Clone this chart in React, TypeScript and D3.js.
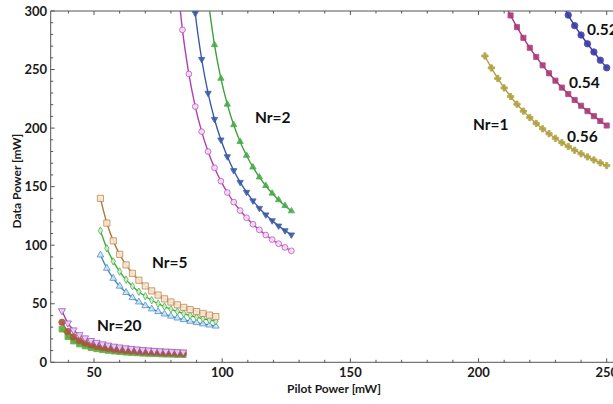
import React from "react";
import * as d3 from "d3";

// ---- tick labels ----
const xTickLabels = [50, 100, 150, 200, 250];
const yTickLabels = [0, 50, 100, 150, 200, 250, 300];

// ---- Nr=20 family ----
const xNr20 = [37.5, 39.8, 42, 44.3, 46.5, 48.8, 51, 53.3, 55.5, 57.8, 60, 62.3, 64.5, 66.8, 69, 71.3, 73.5, 75.8, 78, 80.3, 82.5, 84.8];
const nr20Purple = [44, 33.5, 27.6, 23.5, 20.8, 18.6, 17, 15.7, 14.6, 13.7, 13, 12.3, 11.8, 11.3, 10.8, 10.5, 10.1, 9.8, 9.5, 9.3, 9.0, 8.8];
const nr20Brown = [34.2, 26.3, 21.8, 18.7, 16.6, 14.9, 13.7, 12.7, 11.9, 11.2, 10.7, 10.1, 9.8, 9.4, 9.0, 8.8, 8.5, 8.2, 8.0, 7.9, 7.6, 7.5];
const nr20Green = [28.3, 21.8, 18.1, 15.6, 13.9, 12.5, 11.5, 10.7, 10.1, 9.5, 9.1, 8.6, 8.3, 8.0, 7.7, 7.5, 7.3, 7.1, 6.9, 6.8, 6.6, 6.5];

// ---- Nr=5 family ----
const xNr5 = [52.5, 55, 57.5, 60, 62.5, 65, 67.5, 70, 72.5, 75, 77.5, 80, 82.5, 85, 87.5, 90, 92.5, 95, 97.5];
const nr5Brown = [140.0, 118.9, 103.7, 92.2, 83.2, 76.0, 70.1, 65.2, 61.0, 57.4, 54.2, 51.5, 49.1, 46.9, 45.0, 43.3, 41.7, 40.3, 39.0];
const nr5Green = [112.4, 97.4, 86.2, 77.5, 70.6, 65.0, 60.3, 56.4, 53.0, 50.1, 47.6, 45.4, 43.4, 41.6, 40.0, 38.6, 37.2, 36.1, 35.0];
const nr5Blue = [91.6, 80.3, 71.7, 65.0, 59.6, 55.2, 51.5, 48.3, 45.6, 43.3, 41.2, 39.4, 37.8, 36.4, 35.0, 33.9, 32.8, 31.8, 30.9];

// ---- Nr=2 family ----
const xNr2Purple = [82, 84.5, 87, 89.5, 92, 94.5, 97, 99.5, 102, 104.5, 107, 109.5, 112, 114.5, 117, 119.5, 122, 124.5, 127];
const nr2Purple = [337.5, 283.9, 246.3, 218.4, 197.0, 180.0, 166.1, 154.7, 145.0, 136.8, 129.6, 123.4, 117.9, 113.1, 108.7, 104.8, 101.3, 98.1, 95.2];
const xNr2Blue = [87, 89.5, 92, 94.5, 97, 99.5, 102, 104.5, 107, 109.5, 112, 114.5, 117, 119.5, 122, 124.5, 127];
const nr2Blue = [354.5, 298.1, 258.8, 229.9, 207.6, 190.0, 175.7, 163.8, 153.8, 145.3, 138.0, 131.6, 126.0, 121.0, 116.5, 112.5, 108.9];
const xNr2Green = [94.5, 97, 99.5, 102, 104.5, 107, 109.5, 112, 114.5, 117, 119.5, 122, 124.5, 127];
const nr2Green = [309.9, 271.1, 242.4, 220.3, 202.7, 188.4, 176.6, 166.6, 158.1, 150.8, 144.3, 138.7, 133.7, 129.2];

// ---- Nr=1 family ----
const xNr1Olive = [202.5, 205, 207.5, 210, 212.5, 215, 217.5, 220, 222.5, 225, 227.5, 230, 232.5, 235, 237.5, 240, 242.5, 245, 247.5, 250];
const nr1Olive = [261.6, 251.4, 242.4, 234.3, 227.0, 220.4, 214.5, 209.0, 204.0, 199.4, 195.2, 191.3, 187.6, 184.3, 181.1, 178.1, 175.4, 172.8, 170.3, 168.0];
const xNr1Magenta = [210, 212.5, 215, 217.5, 220, 222.5, 225, 227.5, 230, 232.5, 235, 237.5, 240, 242.5, 245, 247.5, 250];
const nr1Magenta = [307, 296.2, 286.2, 277.1, 268.6, 260.8, 253.6, 246.8, 240.5, 234.6, 229.1, 224.0, 219.1, 214.5, 210.2, 206.1, 202.2];
const xNr1Navy = [232.5, 235, 237.5, 240, 242.5, 245, 247.5, 250];
const nr1Navy = [307, 296.5, 287.5, 279.5, 272, 265, 258, 251.5];

// ---- annotations ----
const annotations = [
  { text: "Nr=2", x: 255, y: 123 },
  { text: "Nr=5", x: 152, y: 268 },
  { text: "Nr=20", x: 97, y: 331 },
  { text: "Nr=1", x: 473, y: 130 },
  { text: "0.52", x: 587, y: 35 },
  { text: "0.54", x: 569, y: 88 },
  { text: "0.56", x: 567, y: 142 },
];

type Series = {
  xs: number[];
  ys: number[];
  line: string;
  stroke: string;
  fill: string;
  symbol: d3.SymbolType;
  size: number;
  rotate?: number;
};

const series: Series[] = [
  { xs: xNr20, ys: nr20Green, line: "#5aa83a", stroke: "#5aa83a", fill: "#5aa83a", symbol: d3.symbolSquare, size: 32 },
  { xs: xNr20, ys: nr20Brown, line: "#a0502e", stroke: "#a8563a", fill: "#a8563a", symbol: d3.symbolCircle, size: 32 },
  { xs: xNr20, ys: nr20Purple, line: "#a040b8", stroke: "#a050c0", fill: "#ecd6f4", symbol: d3.symbolTriangle, size: 22, rotate: 180 },
  { xs: xNr5, ys: nr5Blue, line: "#3a88c0", stroke: "#4a90c8", fill: "#d4e8f6", symbol: d3.symbolTriangle, size: 20 },
  { xs: xNr5, ys: nr5Green, line: "#3aae3a", stroke: "#4ab04a", fill: "#d8f0d0", symbol: d3.symbolDiamond, size: 16 },
  { xs: xNr5, ys: nr5Brown, line: "#b07838", stroke: "#c08850", fill: "#f8e6d2", symbol: d3.symbolSquare, size: 38 },
  { xs: xNr2Purple, ys: nr2Purple, line: "#b040b0", stroke: "#c050c0", fill: "#f4e0f4", symbol: d3.symbolCircle, size: 26 },
  { xs: xNr2Blue, ys: nr2Blue, line: "#3a5aa8", stroke: "#3a5aa8", fill: "#3a5aa8", symbol: d3.symbolTriangle, size: 17, rotate: 180 },
  { xs: xNr2Green, ys: nr2Green, line: "#40a040", stroke: "#48aa48", fill: "#48aa48", symbol: d3.symbolTriangle, size: 17 },
  { xs: xNr1Olive, ys: nr1Olive, line: "#b0a040", stroke: "#b0a040", fill: "#b0a040", symbol: d3.symbolCross, size: 22 },
  { xs: xNr1Magenta, ys: nr1Magenta, line: "#a83a78", stroke: "#a83a78", fill: "#a83a78", symbol: d3.symbolSquare, size: 26 },
  { xs: xNr1Navy, ys: nr1Navy, line: "#3a3aa8", stroke: "#3a3aa8", fill: "#3a3aa8", symbol: d3.symbolCircle, size: 32 },
];

const W = 613;
const H = 404;
const left = 50.7;
const top = 11;
const bottom = 362.3;

export default function App() {
  const x = d3.scaleLinear().domain([33.1, 250]).range([left, 606.7]);
  const y = d3.scaleLinear().domain([0, 300]).range([bottom, top]);
  const lineGen = d3
    .line<[number, number]>()
    .x((d) => x(d[0]))
    .y((d) => y(d[1]))
    .curve(d3.curveMonotoneX);

  const xMinor = d3.range(40, 260, 10);
  const yMinor = d3.range(0, 301, 10);
  const axisColor = "#555";
  const font = "Lato, 'Open Sans', sans-serif";

  return (
    <svg width={W} height={H} style={{ position: "absolute", left: 0, top: 0, background: "#fff" }}>
      <defs>
        <clipPath id="plot">
          <rect x={left} y={top - 4} width={W - left} height={bottom - top + 4} />
        </clipPath>
        <clipPath id="plotLine">
          <rect x={left} y={top} width={W - left} height={bottom - top} />
        </clipPath>
      </defs>

      {/* frame */}
      <line x1={left} x2={W} y1={bottom} y2={bottom} stroke={axisColor} strokeWidth={1} />
      <line x1={left} x2={W} y1={top} y2={top} stroke={axisColor} strokeWidth={1} />
      <line x1={left} x2={left} y1={top} y2={bottom} stroke={axisColor} strokeWidth={1} />

      {xMinor.map((t) => {
        const major = t % 50 === 0;
        const len = major ? 4 : 2.5;
        return (
          <g key={"xt" + t}>
            <line x1={x(t)} x2={x(t)} y1={bottom} y2={bottom - len} stroke={axisColor} />
            <line x1={x(t)} x2={x(t)} y1={top} y2={top + len} stroke={axisColor} />
          </g>
        );
      })}
      {yMinor.map((t) => {
        const major = t % 50 === 0;
        const len = major ? 4 : 2.5;
        return <line key={"yt" + t} x1={left} x2={left + len} y1={y(t)} y2={y(t)} stroke={axisColor} />;
      })}

      {xTickLabels.map((t) => (
        <text key={"xl" + t} x={x(t)} y={377} textAnchor="middle" fontFamily={font} fontWeight={700} fontSize={13} fill="#1a1a1a">
          {t}
        </text>
      ))}
      {yTickLabels.map((t) => (
        <text key={"yl" + t} x={47} y={y(t)} dy="0.36em" textAnchor="end" fontFamily={font} fontWeight={700} fontSize={13} fill="#1a1a1a">
          {t}
        </text>
      ))}

      <text x={334} y={393} textAnchor="middle" fontFamily={font} fontWeight={700} fontSize={12} fill="#1a1a1a">
        Pilot Power [mW]
      </text>
      <text
        transform="translate(21,181) rotate(-90)"
        textAnchor="middle"
        fontFamily={font}
        fontWeight={700}
        fontSize={12}
        fill="#1a1a1a"
      >
        Data Power [mW]
      </text>

      <g clipPath="url(#plotLine)">
        {series.map((s, i) => (
          <path
            key={"l" + i}
            d={lineGen(s.xs.map((v, j) => [v, s.ys[j]] as [number, number])) || ""}
            fill="none"
            stroke={s.line}
            strokeWidth={1.4}
          />
        ))}
      </g>
      <g clipPath="url(#plot)">
        {series.map((s, i) => {
          const sym = d3.symbol().type(s.symbol).size(s.size)() || "";
          return (
            <g key={"m" + i}>
              {s.xs.map((v, j) => (
                <path
                  key={j}
                  d={sym}
                  transform={`translate(${x(v)},${y(s.ys[j])}) rotate(${s.rotate || 0})`}
                  fill={s.fill}
                  stroke={s.stroke}
                  strokeWidth={0.9}
                  opacity={0.9}
                />
              ))}
            </g>
          );
        })}
      </g>

      {annotations.map((a) => (
        <text key={a.text} x={a.x} y={a.y} fontFamily={font} fontWeight={700} fontSize={15.5} fill="#111">
          {a.text}
        </text>
      ))}
    </svg>
  );
}
